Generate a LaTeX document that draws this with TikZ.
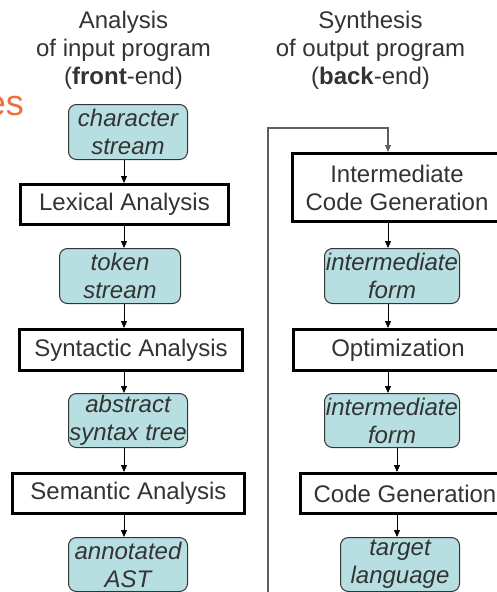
\documentclass[tikz,border=0pt]{standalone}
\usepackage{fontspec}
\setmainfont{Liberation Sans}
\usetikzlibrary{arrows.meta}
\definecolor{streamfill}{RGB}{183,223,226}
\definecolor{textgray}{RGB}{51,51,51}
\definecolor{titleorange}{RGB}{240,110,60}
\definecolor{loopgray}{RGB}{95,95,95}

\begin{document}
\begin{tikzpicture}[x=1pt,y=-1pt,
	phase/.style={draw=black,line width=3pt,fill=white,text=textgray,font=\fontsize{24}{28}\selectfont,align=center,inner sep=0pt},
	stream/.style={draw=textgray,line width=1pt,rounded corners=8pt,fill=streamfill,text=textgray,font=\fontsize{24}{28}\selectfont\itshape,align=center,inner sep=0pt},
	head/.style={text=textgray,font=\fontsize{24}{28}\selectfont,align=center,inner sep=0pt,anchor=north},
	flow/.style={black,line width=0.8pt,-{Triangle[length=7pt,width=6pt]}}]
		\useasboundingbox (0,0) rectangle (497,592);
		\clip (0,0) rectangle (497,592);
		% title remnant and column heads
		\node [anchor=base east,inner sep=0pt,text=titleorange,font=\fontsize{36}{40}\selectfont] (title) at (24,115) {es};
		\node [head] (front) at (123.5,10.5) {Analysis\\of input program\\(\textbf{front}-end)};
		\node [head] (back) at (370.5,10.5) {Synthesis\\of output program\\(\textbf{back}-end)};
		% front-end
		\node [stream,minimum width=119,minimum height=55] (chars) at (128,132) {character\\stream};
		\node [phase,minimum width=208,minimum height=40] (lex) at (124.5,204.5) {Lexical Analysis};
		\node [stream,minimum width=121,minimum height=55] (tokens) at (120,276) {token\\stream};
		\node [phase,minimum width=223,minimum height=41] (syn) at (131,350) {Syntactic Analysis};
		\node [stream,minimum width=119,minimum height=54] (ast) at (128,420.5) {abstract\\syntax tree};
		\node [phase,minimum width=232,minimum height=40] (sem) at (128.5,493.5) {Semantic Analysis};
		\node [stream,minimum width=119,minimum height=54] (annot) at (128,564.5) {annotated\\AST};
		% back-end (right side runs past the edge)
		\node [phase,minimum width=209,minimum height=68] (icg) at (397,187.5) {Intermediate\\Code Generation};
		\node [stream,minimum width=135,minimum height=55] (inter1) at (392,276) {intermediate\\form};
		\node [phase,minimum width=209,minimum height=41] (opt) at (398,350) {Optimization};
		\node [stream,minimum width=135,minimum height=54] (inter2) at (392,420.5) {intermediate\\form};
		\node [phase,minimum width=209,minimum height=40] (cg) at (405,493.5) {Code Generation};
		\node [stream,minimum width=119,minimum height=54] (target) at (400,564.5) {target\\language};
		% arrow columns
		\coordinate (lx) at (124,0);
		\coordinate (rx) at (388,0);
		\coordinate (rxb) at (397,0);
		\draw [flow] (chars.south -| lx) to (lex.north -| lx);
		\draw [flow] (lex.south -| lx) to (tokens.north -| lx);
		\draw [flow] (tokens.south -| lx) to (syn.north -| lx);
		\draw [flow] (syn.south -| lx) to (ast.north -| lx);
		\draw [flow] (ast.south -| lx) to (sem.north -| lx);
		\draw [flow] (sem.south -| lx) to (annot.north -| lx);
		\draw [flow] (icg.south -| rx) to (inter1.north -| rx);
		\draw [flow] (inter1.south -| rx) to (opt.north -| rx);
		\draw [flow] (opt.south -| rx) to (inter2.north -| rx);
		\draw [flow] (inter2.south -| rxb) to (cg.north -| rxb);
		\draw [flow] (cg.south -| rxb) to (target.north -| rxb);
		% loop from the front-end into the back-end
		\coordinate (loopin) at (268,600);
		\coordinate (loopcorner) at (388,128);
		\draw [flow,draw=loopgray,line width=1.2pt] (loopin) |- (loopcorner) -- (icg.north -| loopcorner);
\end{tikzpicture}
\end{document}
